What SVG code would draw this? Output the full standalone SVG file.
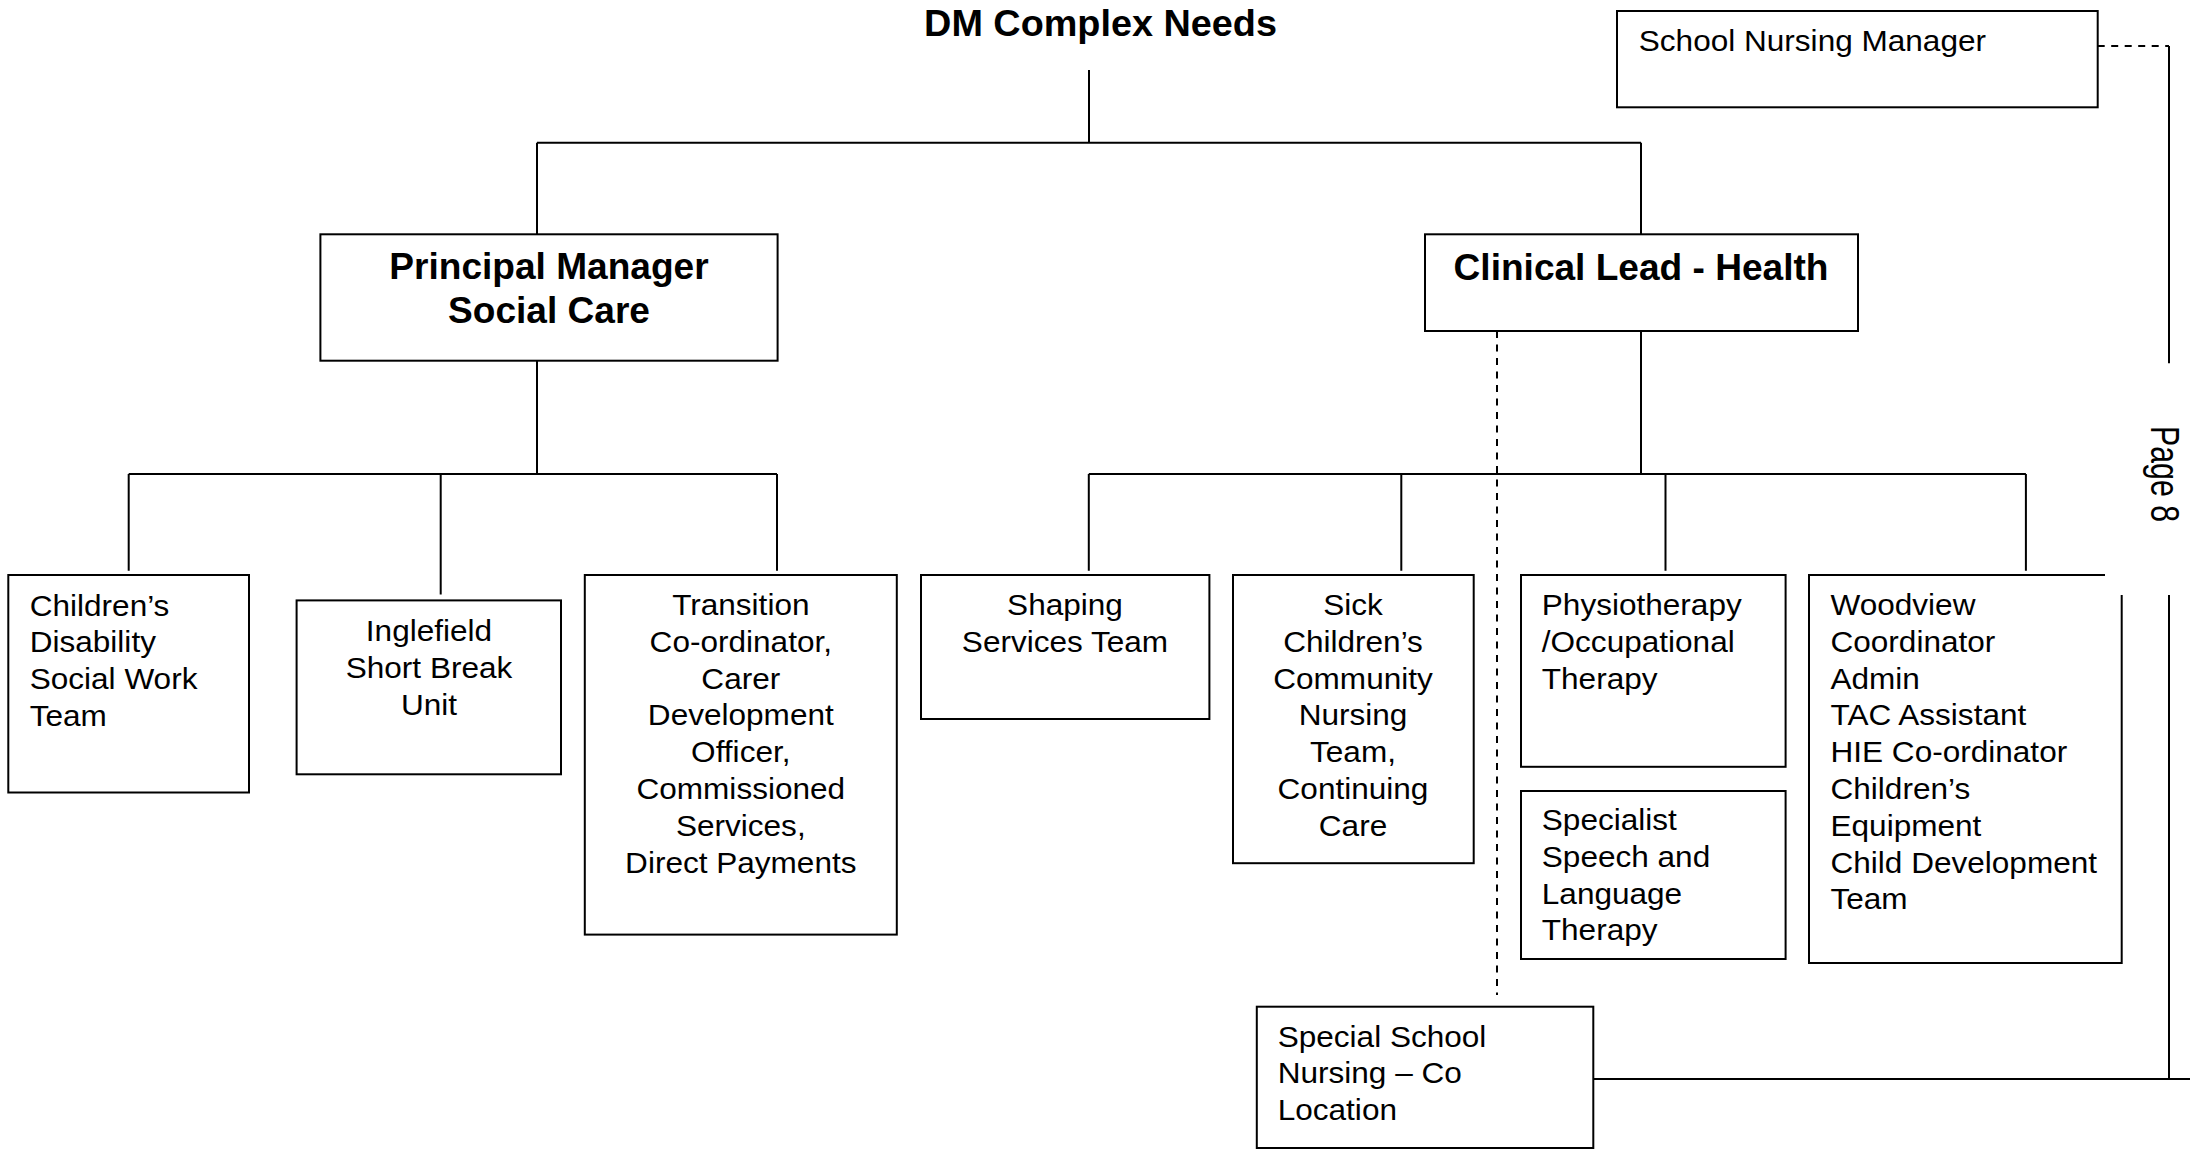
<svg xmlns="http://www.w3.org/2000/svg" width="2190" height="1151" viewBox="0 0 2190 1151">
<style>
.box{fill:#fff;stroke:#000;stroke-width:2}
.ln{fill:none;stroke:#000;stroke-width:2}
.dash{stroke-dasharray:7 6.5}
.t{font-family:"Liberation Sans",Arial,sans-serif;font-size:29.5px;fill:#000}
.b{font-weight:bold;font-size:36px}
.c{text-anchor:middle}
</style>
<rect width="2190" height="1151" fill="#fff"/>
<g id="connectors">
<path class="ln" d="M1089,70 V142.7 M537,142.7 H1641 M537,142.7 V234.3 M1641,142.7 V234.3"/>
<path class="ln" d="M537,360.7 V474 M128.7,474 H777 M128.7,474 V570.7 M440.7,474 V594.6 M777,474 V570.7"/>
<path class="ln" d="M1641,331 V474 M1088.8,474 H2025.9 M1088.8,474 V570.7 M1401.3,474 V570.7 M1665.5,474 V570.7 M2025.9,474 V570.7"/>
<path class="ln dash" d="M1497,331 V995"/>
<path class="ln dash" d="M2097.7,46 H2169"/>
<path class="ln" d="M2169,46 V363.3 M2169,595 V1079 M1593.3,1079 H2190"/>
</g>
<g id="dm-complex-needs">
<text class="t b c" transform="translate(1100.5 36) scale(1.05 1)" x="0" y="0">DM Complex Needs</text>
</g>
<g id="school-nursing-manager">
<rect class="box" x="1617" y="11" width="480.7" height="96.3"/>
<text class="t" transform="translate(1638.8 51) scale(1.07 1)" x="0" y="0">School Nursing Manager</text>
</g>
<g id="principal-manager">
<rect class="box" x="320.4" y="234.3" width="457.2" height="126.4"/>
<text class="t b c" transform="translate(549 279) scale(1.03 1)"><tspan x="0" y="0">Principal Manager</tspan><tspan x="0" y="44">Social Care</tspan></text>
</g>
<g id="clinical-lead">
<rect class="box" x="1425" y="234.3" width="433" height="96.7"/>
<text class="t b c" transform="translate(1641 280) scale(1.03 1)" x="0" y="0">Clinical Lead - Health</text>
</g>
<g id="childrens-disability">
<rect class="box" x="8.3" y="575" width="240.7" height="217.5"/>
<text class="t" transform="translate(29.7 615.5) scale(1.07 1)"><tspan x="0" y="0">Children’s</tspan><tspan x="0" y="36.8">Disability</tspan><tspan x="0" y="73.6">Social Work</tspan><tspan x="0" y="110.4">Team</tspan></text>
</g>
<g id="inglefield">
<rect class="box" x="296.6" y="600.4" width="264.4" height="173.9"/>
<text class="t c" transform="translate(429 641) scale(1.07 1)"><tspan x="0" y="0">Inglefield</tspan><tspan x="0" y="36.8">Short Break</tspan><tspan x="0" y="73.6">Unit</tspan></text>
</g>
<g id="transition">
<rect class="box" x="584.8" y="575" width="312" height="359.6"/>
<text class="t c" transform="translate(740.8 615) scale(1.07 1)"><tspan x="0" y="0">Transition</tspan><tspan x="0" y="36.8">Co-ordinator,</tspan><tspan x="0" y="73.6">Carer</tspan><tspan x="0" y="110.4">Development</tspan><tspan x="0" y="147.2">Officer,</tspan><tspan x="0" y="184">Commissioned</tspan><tspan x="0" y="220.8">Services,</tspan><tspan x="0" y="257.6">Direct Payments</tspan></text>
</g>
<g id="shaping-services">
<rect class="box" x="921" y="575" width="288.4" height="144"/>
<text class="t c" transform="translate(1065 615) scale(1.07 1)"><tspan x="0" y="0">Shaping</tspan><tspan x="0" y="36.8">Services Team</tspan></text>
</g>
<g id="sick-childrens">
<rect class="box" x="1233" y="575" width="240.7" height="288.2"/>
<text class="t c" transform="translate(1353 615) scale(1.07 1)"><tspan x="0" y="0">Sick</tspan><tspan x="0" y="36.8">Children’s</tspan><tspan x="0" y="73.6">Community</tspan><tspan x="0" y="110.4">Nursing</tspan><tspan x="0" y="147.2">Team,</tspan><tspan x="0" y="184">Continuing</tspan><tspan x="0" y="220.8">Care</tspan></text>
</g>
<g id="physiotherapy">
<rect class="box" x="1521" y="575" width="264.6" height="191.8"/>
<text class="t" transform="translate(1541.8 615) scale(1.07 1)"><tspan x="0" y="0">Physiotherapy</tspan><tspan x="0" y="36.8">/Occupational</tspan><tspan x="0" y="73.6">Therapy</tspan></text>
</g>
<g id="speech-language">
<rect class="box" x="1521" y="791" width="264.6" height="168"/>
<text class="t" transform="translate(1541.8 830) scale(1.07 1)"><tspan x="0" y="0">Specialist</tspan><tspan x="0" y="36.8">Speech and</tspan><tspan x="0" y="73.6">Language</tspan><tspan x="0" y="110.4">Therapy</tspan></text>
</g>
<g id="woodview">
<path class="box" d="M2105,575 H1809 V963 H2121.7 V595"/>
<text class="t" transform="translate(1830.5 615) scale(1.07 1)"><tspan x="0" y="0">Woodview</tspan><tspan x="0" y="36.8">Coordinator</tspan><tspan x="0" y="73.6">Admin</tspan><tspan x="0" y="110.4">TAC Assistant</tspan><tspan x="0" y="147.2">HIE Co-ordinator</tspan><tspan x="0" y="184">Children’s</tspan><tspan x="0" y="220.8">Equipment</tspan><tspan x="0" y="257.6">Child Development</tspan><tspan x="0" y="294.4">Team</tspan></text>
</g>
<g id="special-school-nursing">
<rect class="box" x="1256.8" y="1006.7" width="336.5" height="141.3"/>
<text class="t" transform="translate(1277.7 1046.7) scale(1.07 1)"><tspan x="0" y="0">Special School</tspan><tspan x="0" y="36.8">Nursing – Co</tspan><tspan x="0" y="73.6">Location</tspan></text>
</g>
<g id="page-label">
<text class="t" style="font-size:41px" transform="translate(2151 426) rotate(90) scale(0.74 1)" x="0" y="0">Page 8</text>
</g>
</svg>
